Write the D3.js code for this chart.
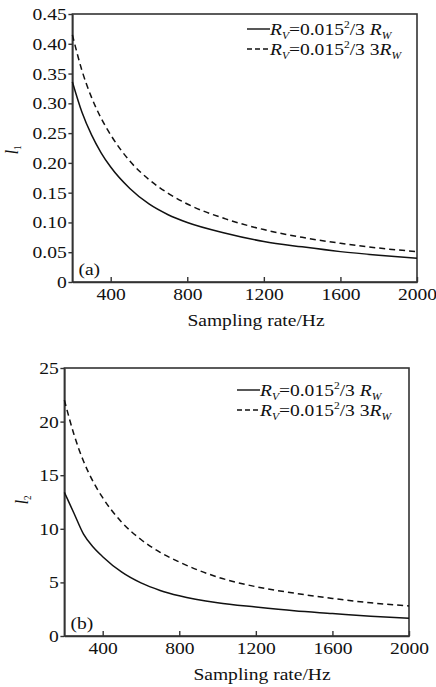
<!DOCTYPE html>
<html>
<head>
<meta charset="utf-8">
<script src="https://cdn.jsdelivr.net/npm/d3@7"></script>
<style>
  body { margin: 0; background: #fff; }
  svg { display: block; font-family: "Liberation Serif", "DejaVu Serif", serif; }
</style>
</head>
<body>
<svg id="chart" width="436" height="687"></svg>
<script>
// sampling rates (Hz)
var rates = [200, 250, 300, 350, 400, 500, 600, 700, 800, 1000, 1200, 1400, 1600, 1800, 2000];

// panel (a): l1
var l1Solid  = [0.336, 0.285, 0.247, 0.217, 0.193, 0.157, 0.131, 0.113, 0.100, 0.082, 0.068, 0.059, 0.051, 0.045, 0.040];
var l1Dashed = [0.415, 0.355, 0.31, 0.275, 0.247, 0.203, 0.172, 0.149, 0.131, 0.106, 0.088, 0.075, 0.065, 0.057, 0.051];

// panel (b): l2
var l2Solid  = [13.4, 11.45, 9.5, 8.3, 7.4, 5.95, 4.95, 4.25, 3.75, 3.1, 2.7, 2.35, 2.1, 1.85, 1.65];
var l2Dashed = [22.0, 18.8, 16.3, 14.4, 12.9, 10.6, 9.0, 7.8, 6.9, 5.5, 4.6, 4.0, 3.5, 3.1, 2.8];

var xTicks = [400, 800, 1200, 1600, 2000];
var l1Ticks = [0, 0.05, 0.10, 0.15, 0.20, 0.25, 0.30, 0.35, 0.40, 0.45];
var l2Ticks = [0, 5, 10, 15, 20, 25];

var svg = d3.select('#chart'),
    sx = 1.15,   // glyphs in the source are a bit wide
    fontSize = 17;

function drawPanel(opt) {
  var g = svg.append('g');
  var x = d3.scaleLinear().domain([200, 2000]).range([opt.left, opt.right]);
  var y = d3.scaleLinear().domain(opt.yDomain).range([opt.bottom, opt.top]);

  // x axis (ticks pointing in)
  var xa = g.append('g')
      .attr('transform', 'translate(0,' + opt.bottom + ')')
      .call(d3.axisBottom(x).tickValues(xTicks).tickSize(-5).tickPadding(6).tickSizeOuter(0)
        .tickFormat(d3.format('d')));
  xa.selectAll('text').attr('transform', 'scale(' + sx + ',1)');

  // y axis (ticks pointing out)
  var ya = g.append('g')
      .attr('transform', 'translate(' + opt.left + ',0)')
      .call(d3.axisLeft(y).tickValues(opt.yTicks).tickSize(4).tickPadding(1).tickSizeOuter(0)
        .tickFormat(opt.fmt));
  ya.selectAll('text').attr('transform', 'scale(' + sx + ',1)');

  g.selectAll('.tick text')
      .attr('font-size', fontSize)
      .attr('font-family', '"Liberation Serif", serif')
      .attr('fill', '#111');
  g.selectAll('.domain, .tick line').attr('stroke', '#333').attr('stroke-width', 1.4);

  // frame
  g.append('rect')
      .attr('x', opt.left).attr('y', opt.top)
      .attr('width', opt.right - opt.left).attr('height', opt.bottom - opt.top)
      .attr('fill', 'none').attr('stroke', '#333').attr('stroke-width', 1.6);

  var line = d3.line()
      .x(function(d) { return x(d[0]); })
      .y(function(d) { return y(d[1]); })
      .curve(d3.curveMonotoneX);

  g.append('path')
      .datum(rates.map(function(r, i) { return [r, opt.solid[i]]; }))
      .attr('d', line)
      .attr('fill', 'none').attr('stroke', '#111').attr('stroke-width', 1.5);
  g.append('path')
      .datum(rates.map(function(r, i) { return [r, opt.dashed[i]]; }))
      .attr('d', line)
      .attr('fill', 'none').attr('stroke', '#111').attr('stroke-width', 1.5)
      .attr('stroke-dasharray', '6,4');

  // legend
  [{ dash: null, three: '' }, { dash: '5,3', three: '3' }].forEach(function(item, i) {
    var ly = opt.legendY + i * 20;
    g.append('line')
        .attr('x1', opt.legendX).attr('x2', opt.legendX + 23)
        .attr('y1', ly).attr('y2', ly)
        .attr('stroke', '#111').attr('stroke-width', 1.4)
        .attr('stroke-dasharray', item.dash);
    var t = g.append('text')
        .attr('transform', 'translate(' + (opt.legendX + 23) + ',' + (ly + 6) + ') scale(' + sx + ',1)')
        .attr('font-size', fontSize).attr('fill', '#111');
    t.append('tspan').attr('font-style', 'italic').text('R');
    t.append('tspan').attr('font-style', 'italic').attr('font-size', 10).attr('dy', 4).text('V');
    t.append('tspan').attr('dy', -4).text('=0.015');
    t.append('tspan').attr('font-size', 10).attr('dy', -7).text('2');
    t.append('tspan').attr('dy', 7).text('/3 ' + item.three);
    t.append('tspan').attr('font-style', 'italic').text('R');
    t.append('tspan').attr('font-style', 'italic').attr('font-size', 10).attr('dy', 4).text('W');
  });

  // panel tag
  g.append('text')
      .attr('transform', 'translate(' + (opt.left + 6) + ',' + (opt.bottom - 7) + ') scale(' + sx + ',1)')
      .attr('font-size', fontSize).attr('fill', '#111')
      .text(opt.tag);

  // x title
  g.append('text')
      .attr('transform', 'translate(' + opt.xTitleX + ',' + (opt.bottom + 44) + ') scale(' + sx + ',1)')
      .attr('text-anchor', 'middle')
      .attr('font-size', fontSize).attr('fill', '#111')
      .text('Sampling rate/Hz');

  // y title
  var yt = g.append('text')
      .attr('transform', 'translate(' + opt.yTitleX + ',' + opt.yTitleY + ') rotate(-90) scale(1,' + sx + ')')
      .attr('text-anchor', 'middle')
      .attr('font-size', fontSize).attr('fill', '#111');
  yt.append('tspan').attr('font-style', 'italic').text('l');
  yt.append('tspan').attr('font-size', 9).attr('dy', 3).text(opt.sub);
}

drawPanel({
  left: 72.4, right: 417, top: 14, bottom: 282,
  yDomain: [0, 0.45], yTicks: l1Ticks,
  fmt: function(d) { return d === 0 ? '0' : d3.format('.2f')(d); },
  solid: l1Solid, dashed: l1Dashed,
  legendX: 247, legendY: 29, tag: '(a)',
  xTitleX: 256, yTitleX: 18, yTitleY: 150, sub: '1'
});

drawPanel({
  left: 64.4, right: 409, top: 368, bottom: 636,
  yDomain: [0, 25], yTicks: l2Ticks,
  fmt: d3.format('d'),
  solid: l2Solid, dashed: l2Dashed,
  legendX: 237, legendY: 390, tag: '(b)',
  xTitleX: 262, yTitleX: 28, yTitleY: 500, sub: '2'
});
</script>
</body>
</html>
